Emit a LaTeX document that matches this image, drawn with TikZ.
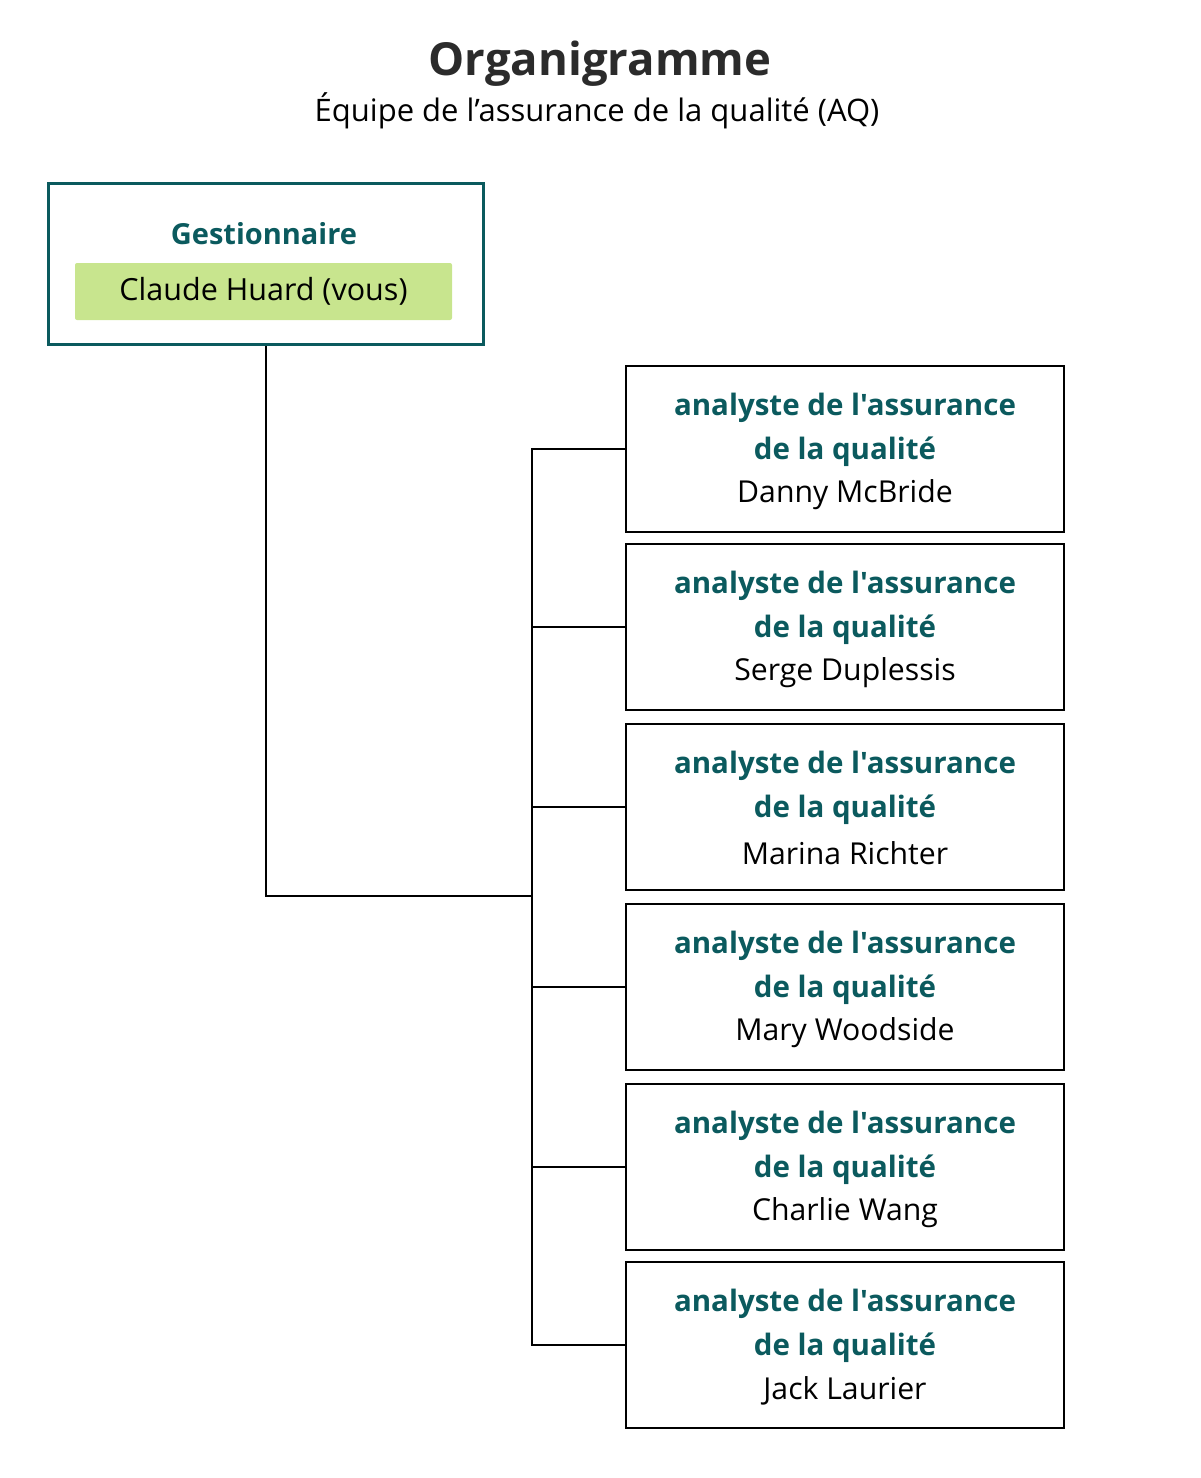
\documentclass[tikz,border=0pt]{standalone}
\usepackage{fontspec}
\usetikzlibrary{calc}
\setmainfont{Open Sans}[Ligatures=TeXOff]
\newfontfamily\titlefont{Open Sans}
\definecolor{teal}{HTML}{0B5A5E}
\definecolor{lgreen}{HTML}{C8E58E}
\definecolor{titlegray}{HTML}{2B2B2B}
\begin{document}
\begin{tikzpicture}[x=1pt,y=-1pt,
  analyst/.style={draw=black, line width=2pt, minimum width=438pt, minimum height=166pt, inner sep=0pt, anchor=north west},
  role/.style={text=teal, font=\fontsize{29.5}{44}\selectfont\bfseries, align=center},
  person/.style={text=black, font=\fontsize{30.2}{32}\selectfont},
  conn/.style={draw=black, line width=2pt}
]
\useasboundingbox (0,0) rectangle (1200,1478);
\node[font=\titlefont\fontsize{45.5}{50}\selectfont\bfseries, text=titlegray] (title) at (600,64) {Organigramme};
\node[font=\fontsize{31}{34}\selectfont, text=black] (subtitle) at (597,111) {Équipe de l’assurance de la qualité (AQ)};
% manager
\node[draw=teal, line width=3pt, minimum width=435pt, minimum height=161pt, anchor=north west, inner sep=0pt] (mgr) at (46.5,181.5) {};
\node[text=teal, font=\fontsize{29}{32}\selectfont\bfseries] (mgrrole) at (264,234) {Gestionnaire};
\node[fill=lgreen, rounded corners=2pt, minimum width=377pt, minimum height=57pt, inner sep=0pt, font=\fontsize{30.5}{32}\selectfont] (mgrname) at (263.5,291.5) {Claude Huard (vous)};
% analysts
\foreach \i/\y/\n in {1/365/Danny McBride, 2/543/Serge Duplessis, 3/723/Marina Richter, 4/903/Mary Woodside, 5/1083/Charlie Wang, 6/1261/Jack Laurier}{
  \node[analyst] (a\i) at (625,\y) {};
  \node[role] (r\i) at ($(a\i.north)+(0,65)$) {analyste de l'assurance\\de la qualité};
  \node[person] (p\i) at ($(a\i.north)+(0,130)$) {\n};
}
\coordinate (bus) at (532,896);
\draw[conn] (mgr.south) |- (bus);
\draw[conn] (a1.west) -| (bus) |- (a6.west);
\foreach \i in {2,3,4,5}{
  \draw[conn] (a\i.west) -- (a\i.west -| bus);
}
\end{tikzpicture}
\end{document}
